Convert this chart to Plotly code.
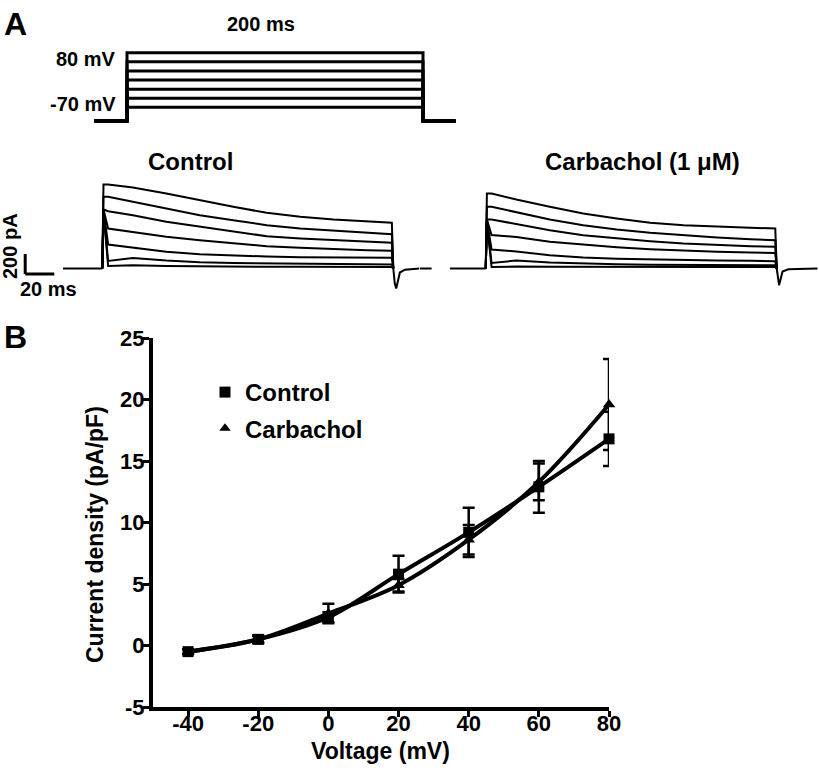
import plotly.graph_objects as go

# ---------------- Panel B data (I-V relation) ----------------
VOLT = [-40, -20, 0, 20, 40, 60, 80]
CTRL_MEAN = [-0.5, 0.5, 2.3, 5.8, 9.2, 12.9, 16.8]
CTRL_SEM = [0.2, 0.3, 0.4, 1.5, 2.0, 2.1, 2.2]
CARB_MEAN = [-0.5, 0.5, 2.6, 4.9, 8.6, 13.3, 19.6]
CARB_SEM = [0.2, 0.3, 0.8, 0.5, 1.2, 1.5, 3.7]
X_TICKS = [-40, -20, 0, 20, 40, 60, 80]
Y_TICKS = [-5, 0, 5, 10, 15, 20, 25]

# ---------------- Panel A: voltage protocol ----------------
PROTO_LEVELS = [-40, -20, 0, 20, 40, 60, 80]   # mV
HOLD_MV = -70
STEP_MS = 200
PRE_MS = 22
POST_MS = 22

# ---------------- Panel A: current traces (pA vs ms) ----------------
T_SAMPLES = [4, 21, 44, 67, 90, 113, 136, 159, 182, 199]
CTRL_SPIKE = [840, 717, 590, 590, 585, 575, 560]
CTRL_TRACES = [
    [840, 810, 750, 683, 617, 557, 517, 490, 467, 457],
    [717, 667, 600, 533, 483, 433, 400, 377, 357, 343],
    [573, 533, 467, 417, 367, 323, 300, 283, 267, 257],
    [400, 367, 317, 283, 250, 223, 207, 193, 183, 177],
    [240, 210, 167, 143, 130, 120, 113, 110, 107, 107],
    [75, 105, 80, 63, 55, 50, 45, 43, 42, 40],
    [25, 33, 25, 20, 18, 17, 17, 16, 16, 15],
]
CTRL_PRE_T = [-27, 0]
CTRL_TAIL_T = [200, 201, 202, 204.5, 208, 218]
CTRL_TAIL_I = [0, -150, -200, -40, -12, 0]

CARB_SPIKE = [750, 617, 490, 490, 485, 475, 465]
CARB_TRACES = [
    [750, 690, 617, 550, 500, 457, 433, 417, 407, 400],
    [617, 560, 490, 433, 390, 357, 330, 310, 293, 283],
    [490, 445, 383, 333, 300, 273, 250, 233, 223, 217],
    [335, 315, 267, 237, 213, 193, 177, 167, 160, 155],
    [190, 170, 133, 110, 97, 90, 85, 80, 77, 73],
    [55, 80, 60, 48, 42, 38, 35, 33, 33, 33],
    [15, 20, 17, 15, 15, 15, 14, 14, 14, 14],
]
CARB_PRE_T = [-45.2, -37.2, None, -24.6, 0]
CARB_TAIL_T = [200, 201, 201.6, 204, 208, 228]
CARB_TAIL_I = [0, -120, -167, -30, -8, 0]

W, H = 819, 777
FONT = "Arial, Liberation Sans, Helvetica, sans-serif"


def px_dom_x(a, b):
    return [a / W, b / W]


def px_dom_y(top, bottom):
    return [1 - bottom / H, 1 - top / H]


fig = go.Figure()

# ---------- Panel B ----------
fig.add_trace(go.Scatter(
    x=VOLT, y=CTRL_MEAN, mode="lines+markers", cliponaxis=False,
    line=dict(color="black", width=4, shape="spline", smoothing=1.0),
    marker=dict(symbol="square", size=11, color="black"),
    error_y=dict(type="data", array=CTRL_SEM, visible=True, color="black", thickness=2.5, width=6),
    showlegend=False, xaxis="x", yaxis="y"))
fig.add_trace(go.Scatter(
    x=VOLT, y=CARB_MEAN, mode="lines+markers", cliponaxis=False,
    line=dict(color="black", width=4, shape="spline", smoothing=1.0),
    marker=dict(symbol="triangle-up", size=11, color="black"),
    error_y=dict(type="data", array=CARB_SEM, visible=True, color="black", thickness=2.5, width=6),
    showlegend=False, xaxis="x", yaxis="y"))
# legend entries (markers only)
fig.add_trace(go.Scatter(x=[None], y=[None], mode="markers", name="Control",
                         marker=dict(symbol="square", size=11, color="black"),
                         legendgroup="a", xaxis="x", yaxis="y"))
fig.add_trace(go.Scatter(x=[None], y=[None], mode="markers", name="Carbachol",
                         marker=dict(symbol="triangle-up", size=10, color="black"),
                         legendgroup="b", xaxis="x", yaxis="y"))

# ---------- Protocol ----------
for lvl in PROTO_LEVELS:
    fig.add_trace(go.Scatter(
        x=[-PRE_MS, 0, 0, STEP_MS, STEP_MS, STEP_MS + POST_MS],
        y=[HOLD_MV, HOLD_MV, lvl, lvl, HOLD_MV, HOLD_MV],
        mode="lines", line=dict(color="black", width=3),
        showlegend=False, xaxis="x2", yaxis="y2", hoverinfo="skip"))

# ---------- Current traces ----------
def add_traces(traces, spikes, pre_t, tail_t, tail_i, xa, ya):
    pre_i = [0 if t is not None else None for t in pre_t]
    fig.add_trace(go.Scatter(x=pre_t, y=pre_i, mode="lines",
                             line=dict(color="black", width=2),
                             showlegend=False, xaxis=xa, yaxis=ya, hoverinfo="skip"))
    for amps, sp in zip(traces, spikes):
        xs = [0, 0.8] + T_SAMPLES + [STEP_MS]
        ys = [0, sp] + amps + [0]
        fig.add_trace(go.Scatter(x=xs, y=ys, mode="lines",
                                 line=dict(color="black", width=2),
                                 showlegend=False, xaxis=xa, yaxis=ya, hoverinfo="skip"))
    fig.add_trace(go.Scatter(x=tail_t, y=tail_i, mode="lines",
                             line=dict(color="black", width=2),
                             showlegend=False, xaxis=xa, yaxis=ya, hoverinfo="skip"))


add_traces(CTRL_TRACES, CTRL_SPIKE, CTRL_PRE_T, CTRL_TAIL_T, CTRL_TAIL_I, "x3", "y3")
add_traces(CARB_TRACES, CARB_SPIKE, CARB_PRE_T, CARB_TAIL_T, CARB_TAIL_I, "x4", "y4")

hidden = dict(visible=False, showgrid=False, zeroline=False, fixedrange=True, automargin=False)
tickfont = dict(family=FONT, size=22, color="black", weight="bold")

fig.update_layout(
    template="none",
    width=W, height=H,
    margin=dict(l=0, r=0, t=0, b=0, pad=0, autoexpand=False),
    paper_bgcolor="white", plot_bgcolor="rgba(0,0,0,0)",
    font=dict(family=FONT, color="black"),
    xaxis=dict(domain=px_dom_x(153, 609), range=[-50, 80], anchor="y", automargin=False,
               tickvals=X_TICKS, ticktext=[str(v) for v in X_TICKS],
               ticks="outside", ticklen=6, tickwidth=3, tickcolor="black", ticklabelstandoff=-12,
               showline=True, linewidth=4, linecolor="black", showgrid=False, zeroline=False,
               tickfont=tickfont),
    yaxis=dict(domain=px_dom_y(338, 707), range=[-5, 25], anchor="x", automargin=False,
               tickvals=Y_TICKS, ticktext=[str(v) for v in Y_TICKS],
               ticks="outside", ticklen=6, tickwidth=3, tickcolor="black", ticklabelstandoff=-6,
               showline=True, linewidth=4, linecolor="black", showgrid=False, zeroline=False,
               tickfont=tickfont),
    xaxis2=dict(domain=px_dom_x(90, 460), range=[-25, 225], anchor="y2", **hidden),
    yaxis2=dict(domain=px_dom_y(47.2, 126.5), range=[-82, 92], anchor="x2", **hidden),
    xaxis3=dict(domain=px_dom_x(12.1, 419.5), range=[-62, 218], anchor="y3", **hidden),
    yaxis3=dict(domain=px_dom_y(174, 294), range=[-255, 945], anchor="x3", **hidden),
    xaxis4=dict(domain=px_dom_x(415.9, 818.2), range=[-48, 228.5], anchor="y4", **hidden),
    yaxis4=dict(domain=px_dom_y(174, 294), range=[-255, 945], anchor="x4", **hidden),
    legend=dict(x=205 / W, y=1 - 370 / H, xanchor="left", yanchor="top",
                font=dict(family=FONT, size=24, weight="bold", color="black"),
                bgcolor="rgba(0,0,0,0)", tracegroupgap=2, traceorder="grouped",
                itemsizing="trace"),
    showlegend=True,
)

# scale bar (200 pA, 20 ms) in control-trace coordinates
SB_T0, SB_I0 = -53, -55
fig.add_shape(type="line", xref="x3", yref="y3", x0=SB_T0, x1=SB_T0, y0=SB_I0, y1=SB_I0 + 200,
              line=dict(color="black", width=3))
fig.add_shape(type="line", xref="x3", yref="y3", x0=SB_T0, x1=SB_T0 + 20, y0=SB_I0, y1=SB_I0,
              line=dict(color="black", width=3))

bold = lambda s: dict(family=FONT, size=s, color="black", weight="bold")
anns = [
    dict(text="A", x=15, y=24, font=bold(32)),
    dict(text="B", x=15, y=337, font=bold(32)),
    dict(text="200 ms", x=261, y=24, font=bold(20)),
    dict(text="Control", x=190, y=161, font=bold(24)),
    dict(text="Carbachol (1 μM)", x=642, y=161, font=bold(24)),
    dict(text="20 ms", x=48, y=289, font=bold(20)),
    dict(text="Voltage (mV)", x=380, y=751, font=bold(23)),
]
for a in anns:
    fig.add_annotation(text=a["text"], x=a["x"] / W, y=1 - a["y"] / H, xref="paper", yref="paper",
                       showarrow=False, xanchor="center", yanchor="middle", font=a["font"])
fig.add_annotation(text="200 pA", x=10 / W, y=1 - 246 / H, xref="paper", yref="paper",
                   showarrow=False, textangle=-90, xanchor="center", yanchor="middle", font=bold(20))
fig.add_annotation(text="Current density (pA/pF)", x=95 / W, y=1 - 535 / H, xref="paper", yref="paper",
                   showarrow=False, textangle=-90, xanchor="center", yanchor="middle", font=bold(23))
fig.add_annotation(text="80 mV", x=118 / W, y=1 - 59 / H, xref="paper", yref="paper", showarrow=False,
                   xanchor="right", yanchor="middle", font=bold(20))
fig.add_annotation(text="-70 mV", x=118 / W, y=1 - 104 / H, xref="paper", yref="paper", showarrow=False,
                   xanchor="right", yanchor="middle", font=bold(20))

fig.write_html("out.html", config={"displayModeBar": False},
               post_script="document.body.style.margin='0px';document.body.style.overflow='hidden';")
